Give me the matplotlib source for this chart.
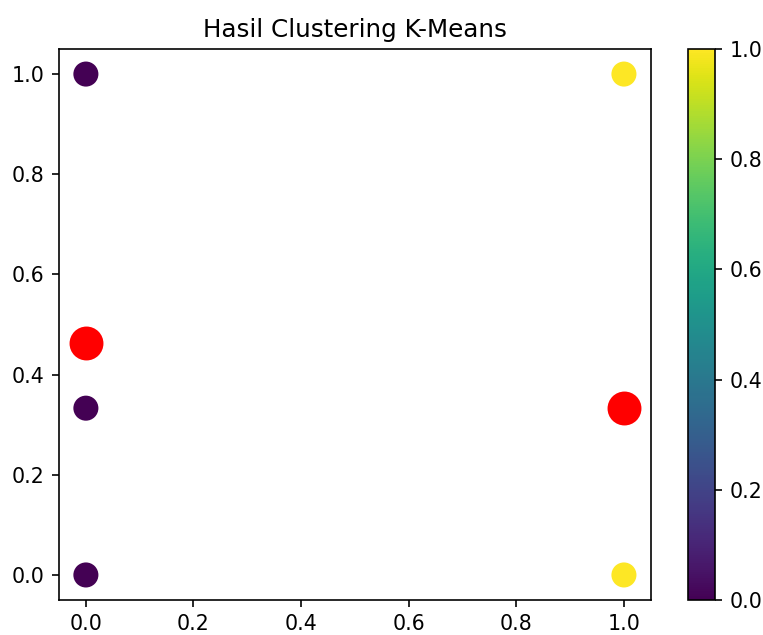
import numpy as np
import matplotlib.pyplot as plt

# data points and their cluster labels
x_vals = [0, 0, 0, 1, 1]
y_vals = [1.0, 0.333, 0.0, 1.0, 0.0]
labels = [0, 0, 0, 1, 1]

# centroids
cent_x = [0, 1]
cent_y = [0.463, 0.333]

dpi = 148
fig = plt.figure(figsize=(763 / dpi, 635 / dpi), dpi=dpi)
ax = fig.add_axes([0.0773, 0.0551, 0.853 - 0.0773, 0.9228 - 0.0551])
cax = fig.add_axes([0.9017, 0.0551, 0.0354, 0.9228 - 0.0551])

sc = ax.scatter(x_vals, y_vals, c=labels, cmap='viridis', s=125)
ax.scatter(cent_x, cent_y, c='red', s=240)
ax.set_title('Hasil Clustering K-Means')
fig.colorbar(sc, cax=cax)

fig.savefig('out.png', dpi=dpi)
